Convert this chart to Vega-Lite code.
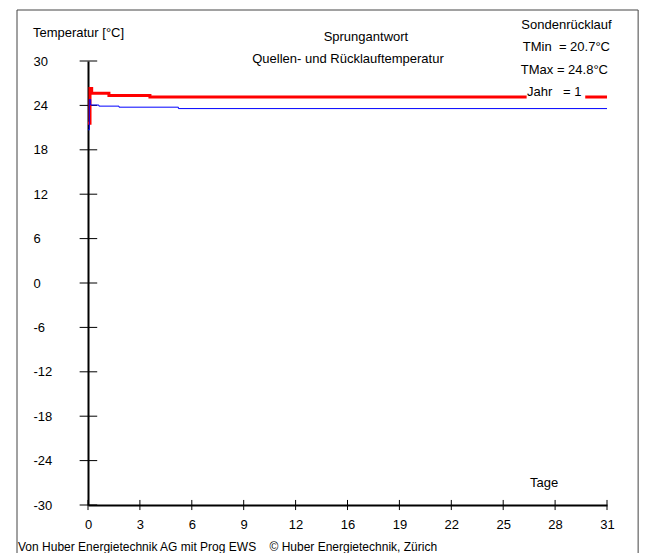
{
  "$schema": "https://vega.github.io/schema/vega-lite/v6.json",
  "width": 519,
  "height": 444,
  "autosize": {"type": "none"},
  "padding": {"left": 88, "top": 61, "right": 41, "bottom": 48},
  "background": "white",
  "config": {
    "view": {"stroke": null},
    "font": "Liberation Sans",
    "text": {"font": "Liberation Sans", "fontSize": 13, "color": "black"},
    "axis": {"grid": false, "labelFont": "Liberation Sans", "labelFontSize": 13, "labelColor": "black", "title": null, "zindex": 0}
  },
  "datasets": {
    "series": [
      {"tag": 0, "temp": 21.6, "serie": "Quelle"},
      {"tag": 0.12, "temp": 26.3, "serie": "Quelle"},
      {"tag": 0.22, "temp": 25.65, "serie": "Quelle"},
      {"tag": 1.25, "temp": 25.35, "serie": "Quelle"},
      {"tag": 3.7, "temp": 25.12, "serie": "Quelle"},
      {"tag": 31, "temp": 25.12, "serie": "Quelle"},
      {"tag": 0, "temp": 20.7, "serie": "Sondenrücklauf"},
      {"tag": 0.08, "temp": 24.8, "serie": "Sondenrücklauf"},
      {"tag": 0.16, "temp": 24.05, "serie": "Sondenrücklauf"},
      {"tag": 0.65, "temp": 23.9, "serie": "Sondenrücklauf"},
      {"tag": 1.85, "temp": 23.76, "serie": "Sondenrücklauf"},
      {"tag": 5.4, "temp": 23.57, "serie": "Sondenrücklauf"},
      {"tag": 31, "temp": 23.57, "serie": "Sondenrücklauf"}
    ],
    "yticks": [{"v": -30}, {"v": -24}, {"v": -18}, {"v": -12}, {"v": -6}, {"v": 0}, {"v": 6}, {"v": 12}, {"v": 18}, {"v": 24}, {"v": 30}],
    "xticks": [{"v": 0}, {"v": 3.1}, {"v": 6.2}, {"v": 9.3}, {"v": 12.4}, {"v": 15.5}, {"v": 18.6}, {"v": 21.7}, {"v": 24.8}, {"v": 27.9}, {"v": 31}]
  },
  "layer": [
    {
      "data": {"values": [{"x1": -4.24, "x2": 32.86, "y1": -37.5, "y2": 36.89}]},
      "mark": {"type": "rect", "fill": null, "stroke": "#444444", "strokeWidth": 1},
      "encoding": {
        "x": {"field": "x1", "type": "quantitative", "scale": {"domain": [0, 31], "nice": false, "zero": false},
          "axis": {"values": [0, 3.1, 6.2, 9.3, 12.4, 15.5, 18.6, 21.7, 24.8, 27.9, 31], "format": ".0f", "ticks": false, "tickSize": 0, "labelPadding": 13, "domainColor": "black", "domainWidth": 2, "labelFlush": false}},
        "x2": {"field": "x2"},
        "y": {"field": "y1", "type": "quantitative", "scale": {"domain": [-30, 30], "nice": false, "zero": false},
          "axis": {"values": [-30, -24, -18, -12, -6, 0, 6, 12, 18, 24, 30], "labelExpr": "toString(datum.value)", "ticks": false, "tickSize": 0, "labelPadding": 55, "labelAlign": "left", "domainColor": "black", "domainWidth": 2, "labelFlush": false}},
        "y2": {"field": "y2"}
      }
    },
    {
      "data": {"name": "yticks"},
      "mark": {"type": "rule", "color": "black", "strokeWidth": 1},
      "encoding": {
        "x": {"datum": -0.5, "type": "quantitative"},
        "x2": {"datum": 0.55},
        "y": {"field": "v", "type": "quantitative"}
      }
    },
    {
      "data": {"name": "xticks"},
      "mark": {"type": "rule", "color": "black", "strokeWidth": 1},
      "encoding": {
        "x": {"field": "v", "type": "quantitative"},
        "y": {"datum": -30.68, "type": "quantitative"},
        "y2": {"datum": -29.32}
      }
    },
    {
      "data": {"name": "series"},
      "transform": [{"filter": "datum.serie === 'Quelle'"}],
      "mark": {"type": "line", "color": "#ff0000", "strokeWidth": 3, "interpolate": "step-after"},
      "encoding": {
        "x": {"field": "tag", "type": "quantitative"},
        "y": {"field": "temp", "type": "quantitative"}
      }
    },
    {
      "data": {"name": "series"},
      "transform": [{"filter": "datum.serie === 'Sondenrücklauf'"}],
      "mark": {"type": "line", "color": "#0000ff", "strokeWidth": 1, "interpolate": "step-after"},
      "encoding": {
        "x": {"field": "tag", "type": "quantitative"},
        "y": {"field": "temp", "type": "quantitative"}
      }
    },
    {
      "data": {"values": [{"x1": 26.2, "x2": 29.7, "y1": 24.85, "y2": 25.5}]},
      "mark": {"type": "rect", "fill": "white"},
      "encoding": {
        "x": {"field": "x1", "type": "quantitative"},
        "x2": {"field": "x2"},
        "y": {"field": "y1", "type": "quantitative"},
        "y2": {"field": "y2"}
      }
    },
    {
      "data": {"values": [
        {"tx": -3.29, "ty": 33.78, "label": "Temperatur [°C]"},
        {"tx": 26.22, "ty": 25.77, "label": "Jahr\u00a0\u00a0\u00a0= 1"}
      ]},
      "mark": {"type": "text", "align": "left", "baseline": "middle"},
      "encoding": {
        "x": {"field": "tx", "type": "quantitative"},
        "y": {"field": "ty", "type": "quantitative"},
        "text": {"field": "label"}
      }
    },
    {
      "data": {"values": [
        {"tx": -4.18, "ty": -35.68, "label": "Von Huber Energietechnik AG mit Prog EWS\u00a0\u00a0\u00a0\u00a0© Huber Energietechnik, Zürich"}
      ]},
      "mark": {"type": "text", "align": "left", "baseline": "middle", "fontSize": 12},
      "encoding": {
        "x": {"field": "tx", "type": "quantitative"},
        "y": {"field": "ty", "type": "quantitative"},
        "text": {"field": "label"}
      }
    },
    {
      "data": {"values": [
        {"tx": 16.6, "ty": 33.24, "label": "Sprungantwort"},
        {"tx": 15.53, "ty": 30.27, "label": "Quellen- und Rücklauftemperatur"},
        {"tx": 27.24, "ty": -27.03, "label": "Tage"}
      ]},
      "mark": {"type": "text", "align": "center", "baseline": "middle"},
      "encoding": {
        "x": {"field": "tx", "type": "quantitative"},
        "y": {"field": "ty", "type": "quantitative"},
        "text": {"field": "label"}
      }
    },
    {
      "data": {"values": [
        {"tx": 31.28, "ty": 34.86, "label": "Sondenrücklauf"},
        {"tx": 31.18, "ty": 31.89, "label": "TMin\u00a0\u00a0= 20.7°C"},
        {"tx": 31.06, "ty": 28.78, "label": "TMax = 24.8°C"}
      ]},
      "mark": {"type": "text", "align": "right", "baseline": "middle"},
      "encoding": {
        "x": {"field": "tx", "type": "quantitative"},
        "y": {"field": "ty", "type": "quantitative"},
        "text": {"field": "label"}
      }
    }
  ]
}
